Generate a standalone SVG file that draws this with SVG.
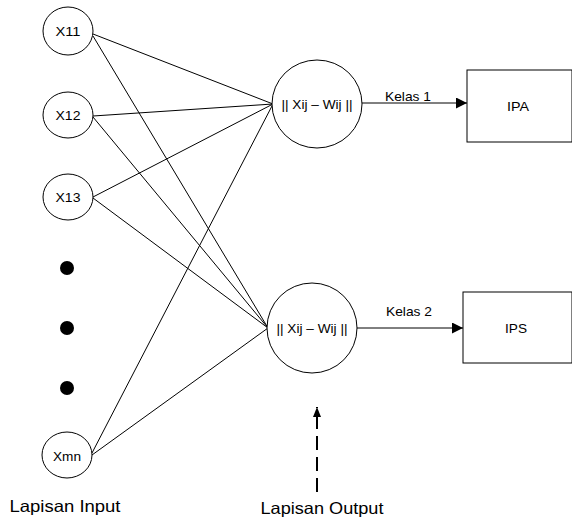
<svg xmlns="http://www.w3.org/2000/svg" width="572" height="520" viewBox="0 0 572 520">
<defs>
<style>
.n{fill:#fff;stroke:#000;stroke-width:1}
.t{font-family:"Liberation Sans",Arial,sans-serif;font-size:13px;fill:#000;text-anchor:middle;dominant-baseline:central}
.lb{font-family:"Liberation Sans",Arial,sans-serif;font-size:16.5px;fill:#000;text-anchor:middle;dominant-baseline:central}
.c{stroke:#000;stroke-width:1;fill:none}
</style>
<marker id="ah" viewBox="0 0 10 10" refX="10" refY="5" markerWidth="10" markerHeight="10" markerUnits="userSpaceOnUse" orient="auto">
<path d="M0,1 L10,5 L0,9 Z" fill="#000"/>
</marker>
<marker id="ah2" viewBox="0 0 10 10" refX="10" refY="5" markerWidth="16" markerHeight="11" markerUnits="userSpaceOnUse" orient="auto">
<path d="M0,0 L10,5 L0,10 Z" fill="#000"/>
</marker>
</defs>
<rect width="572" height="520" fill="#fff"/>
<g id="connectors">
<line class="c" x1="93" y1="34" x2="273" y2="104"/>
<line class="c" x1="93" y1="36" x2="268" y2="328"/>
<line class="c" x1="93" y1="116" x2="273" y2="104"/>
<line class="c" x1="93" y1="117" x2="268" y2="328"/>
<line class="c" x1="93" y1="197" x2="273" y2="104"/>
<line class="c" x1="93" y1="198" x2="268" y2="328"/>
<line class="c" x1="92" y1="453" x2="273" y2="104"/>
<line class="c" x1="92" y1="455" x2="268" y2="328"/>
<line class="c" x1="361" y1="103" x2="467" y2="103" marker-end="url(#ah2)"/>
<line class="c" x1="357" y1="328" x2="463" y2="328" marker-end="url(#ah2)"/>
<line x1="317" y1="492" x2="317" y2="407" stroke="#000" stroke-width="2" stroke-dasharray="14,7" marker-end="url(#ah)"/>
<text class="t" x="408" y="96" textLength="46" lengthAdjust="spacingAndGlyphs">Kelas 1</text>
<text class="t" x="409" y="311" textLength="46" lengthAdjust="spacingAndGlyphs">Kelas 2</text>
</g>
<g id="x11"><ellipse class="n" cx="68" cy="31" rx="25" ry="24"/><text class="t" x="68" y="31" textLength="25" lengthAdjust="spacingAndGlyphs">X11</text></g>
<g id="x12"><ellipse class="n" cx="68" cy="115" rx="25" ry="23"/><text class="t" x="68" y="115" textLength="25" lengthAdjust="spacingAndGlyphs">X12</text></g>
<g id="x13"><ellipse class="n" cx="68" cy="197" rx="25" ry="23"/><text class="t" x="68" y="197" textLength="25" lengthAdjust="spacingAndGlyphs">X13</text></g>
<g id="dots">
<circle cx="67" cy="268" r="7" fill="#000"/>
<circle cx="67" cy="328" r="7" fill="#000"/>
<circle cx="67" cy="388" r="7" fill="#000"/>
</g>
<g id="xmn"><ellipse class="n" cx="67" cy="455" rx="25" ry="23"/><text class="t" x="67" y="456" textLength="28" lengthAdjust="spacingAndGlyphs">Xmn</text></g>
<g id="neuron1"><ellipse class="n" cx="317" cy="104" rx="45" ry="44"/><text class="t" x="317" y="104" textLength="71" lengthAdjust="spacingAndGlyphs">|| Xij – Wij ||</text></g>
<g id="neuron2"><ellipse class="n" cx="312" cy="328" rx="45" ry="45"/><text class="t" x="312" y="328" textLength="71" lengthAdjust="spacingAndGlyphs">|| Xij – Wij ||</text></g>
<g id="ipa"><rect class="n" x="467" y="70" width="105" height="72"/><text class="t" x="518" y="106" textLength="22" lengthAdjust="spacingAndGlyphs">IPA</text></g>
<g id="ips"><rect class="n" x="463" y="292" width="109" height="71"/><text class="t" x="516" y="328" textLength="22" lengthAdjust="spacingAndGlyphs">IPS</text></g>
<g id="labels">
<text class="lb" x="65" y="506" textLength="111" lengthAdjust="spacingAndGlyphs">Lapisan Input</text>
<text class="lb" x="322" y="508" textLength="123" lengthAdjust="spacingAndGlyphs">Lapisan Output</text>
</g>
</svg>
